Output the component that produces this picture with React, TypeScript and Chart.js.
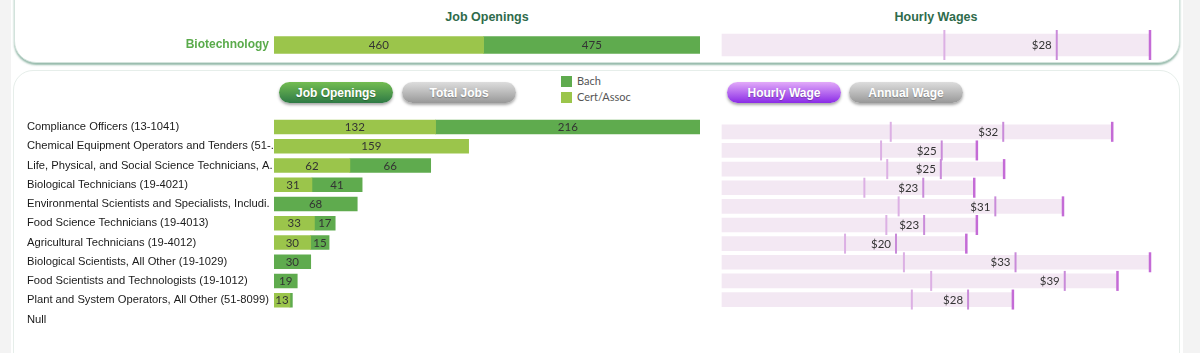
import React, { useEffect, useRef } from "react";
import { Chart, registerables } from "chart.js";

Chart.register(...registerables);

// ---------- DATA ----------
const industry = ["Biotechnology"];
const industryCertAssoc = [460];
const industryBach = [475];
const industryWageLow = [18.6];
const industryWageMedian = [28];
const industryWageHigh = [35.8];

const occupations = [
  "Compliance Officers (13-1041)",
  "Chemical Equipment Operators and Tenders (51-9011)",
  "Life, Physical, and Social Science Technicians, All Other (19-4099)",
  "Biological Technicians (19-4021)",
  "Environmental Scientists and Specialists, Including Health (19-2041)",
  "Food Science Technicians (19-4013)",
  "Agricultural Technicians (19-4012)",
  "Biological Scientists, All Other (19-1029)",
  "Food Scientists and Technologists (19-1012)",
  "Plant and System Operators, All Other (51-8099)",
  "Null",
];
const certAssoc = [132, 159, 62, 31, null, 33, 30, null, null, 13, null];
const bach = [216, null, 66, 41, 68, 17, 15, 30, 19, 2, null];
const wageLow = [19.2, 18.1, 18.8, 16.2, 20.1, 18.7, 14.0, 20.7, 23.8, 21.6, null];
const wageMedian = [32.0, 25.0, 24.9, 22.9, 31.1, 23.0, 19.8, 33.4, 39.0, 28.0, null];
const wageHigh = [44.4, 29.0, 32.1, 28.7, 38.8, 29.0, 27.8, 48.7, 45.0, 33.1, null];

// ---------- STYLE ----------
const CERT = "#9bc54b";
const BACH = "#5fab4e";
const WAGE_BG = "#f3e8f3";
const LOW_C = "#dcb0e4";
const MED_C = "#c98bd9";
const HIGH_C = "#c46bd6";
const NUM_FONT = "11.5px Lato, 'Open Sans', sans-serif";
const LABEL_FAMILY = "'Liberation Sans', Arial, sans-serif";
const LABEL_SIZE = 11.2;

const measureCtx = document.createElement("canvas").getContext("2d")!;
function truncate(label: string, maxW: number): string {
  measureCtx.font = `${LABEL_SIZE}px ${LABEL_FAMILY}`;
  if (measureCtx.measureText(label).width <= maxW) return label;
  let s = label;
  while (s.length > 1 && measureCtx.measureText(s + ".").width > maxW) s = s.slice(0, -1);
  return s + ".";
}

const barLabelPlugin = {
  id: "barLabels",
  afterDatasetsDraw(chart: any) {
    const { ctx } = chart;
    ctx.save();
    ctx.font = NUM_FONT;
    ctx.fillStyle = "#333";
    ctx.textAlign = "center";
    ctx.textBaseline = "middle";
    chart.data.datasets.forEach((ds: any, di: number) => {
      const meta = chart.getDatasetMeta(di);
      meta.data.forEach((el: any, i: number) => {
        const v = ds.data[i];
        if (v == null) return;
        const txt = String(v);
        const w = Math.abs(el.x - el.base);
        if (w < ctx.measureText(txt).width) return;
        ctx.fillText(txt, (el.x + el.base) / 2, el.y + 0.5);
      });
    });
    ctx.restore();
  },
};

function wageLabelPlugin(medians: (number | null)[]) {
  return {
    id: "wageLabels",
    afterDatasetsDraw(chart: any) {
      const { ctx } = chart;
      const x = chart.scales.x;
      const y = chart.scales.y;
      ctx.save();
      ctx.font = NUM_FONT;
      ctx.fillStyle = "#333";
      ctx.textAlign = "right";
      ctx.textBaseline = "middle";
      medians.forEach((m, i) => {
        if (m == null) return;
        ctx.fillText("$" + Math.round(m), x.getPixelForValue(m) - 5, y.getPixelForValue(i) + 0.5);
      });
      ctx.restore();
    },
  };
}

function markSet(labels: string[], values: (number | null)[], color: string, radius: number, width: number) {
  return {
    type: "scatter",
    data: labels
      .map((l, i) => (values[i] == null ? null : { x: values[i], y: l }))
      .filter((p) => p !== null),
    pointStyle: "line",
    pointRotation: 90,
    pointRadius: radius,
    pointHoverRadius: radius,
    pointBorderColor: color,
    pointBackgroundColor: color,
    pointBorderWidth: width,
    pointHoverBorderWidth: width,
    clip: false,
  };
}

function jobConfig(
  labels: string[],
  cert: (number | null)[],
  bachV: (number | null)[],
  thickness: number,
  padding: any,
  yTicks: any,
  axisWidth: number
) {
  const totals = labels.map((_, i) => (cert[i] ?? 0) + (bachV[i] ?? 0));
  return {
    type: "bar",
    data: {
      labels,
      datasets: [
        { label: "Cert/Assoc", data: cert, backgroundColor: CERT, barThickness: thickness },
        { label: "Bach", data: bachV, backgroundColor: BACH, barThickness: thickness },
      ],
    },
    options: {
      indexAxis: "y",
      responsive: false,
      animation: false,
      events: [],
      layout: { padding },
      plugins: { legend: { display: false }, tooltip: { enabled: false } },
      scales: {
        x: { stacked: true, display: false, min: 0, max: Math.max(...totals) },
        y: {
          stacked: true,
          grid: { display: false, drawTicks: false },
          border: { display: false },
          ticks: yTicks,
          afterFit(scale: any) {
            scale.width = axisWidth;
          },
        },
      },
    },
    plugins: [barLabelPlugin],
  };
}

function wageConfig(
  labels: string[],
  low: (number | null)[],
  med: (number | null)[],
  high: (number | null)[],
  bgThickness: number,
  markRadius: number,
  padding: any
) {
  const maxHigh = Math.max(...(high.filter((v) => v != null) as number[]));
  return {
    type: "bar",
    data: {
      labels,
      datasets: [
        markSet(labels, high, HIGH_C, markRadius, 2.5),
        markSet(labels, med, MED_C, markRadius, 2),
        markSet(labels, low, LOW_C, markRadius, 2),
        {
          type: "bar",
          label: "range",
          data: high,
          backgroundColor: WAGE_BG,
          barThickness: bgThickness,
          clip: false,
        },
      ],
    },
    options: {
      indexAxis: "y",
      responsive: false,
      animation: false,
      events: [],
      layout: { padding },
      plugins: { legend: { display: false }, tooltip: { enabled: false } },
      scales: {
        x: { type: "linear", display: false, min: 0, max: maxHigh },
        y: { type: "category", display: false },
      },
    },
    plugins: [wageLabelPlugin(med)],
  };
}

function ChartCanvas(props: { left: number; top: number; width: number; height: number; make: () => any }) {
  const ref = useRef<HTMLCanvasElement>(null);
  useEffect(() => {
    const chart = new Chart(ref.current!, props.make());
    return () => chart.destroy();
  }, []);
  return (
    <canvas
      ref={ref}
      width={props.width}
      height={props.height}
      style={{ position: "absolute", left: props.left, top: props.top, width: props.width, height: props.height }}
    />
  );
}

const pill = (left: number, width: number, bg: string): React.CSSProperties => ({
  position: "absolute",
  left,
  top: 82,
  width,
  height: 21,
  borderRadius: 11,
  background: bg,
  color: "#fff",
  font: `bold 12px ${LABEL_FAMILY}`,
  display: "flex",
  alignItems: "center",
  justifyContent: "center",
  boxShadow: "0 2px 3px rgba(0,0,0,0.35)",
  textShadow: "0 1px 1px rgba(0,0,0,0.25)",
});

export default function App() {
  useEffect(() => {
    document.body.style.margin = "0";
  }, []);

  return (
    <div style={{ position: "absolute", left: 0, top: 0, width: 1200, height: 353, background: "#f3f3f3", overflow: "hidden" }}>
      <div style={{ position: "absolute", left: 11, top: 0, width: 1172, height: 353, background: "#fff" }} />
      {/* top card */}
      <div
        style={{
          position: "absolute",
          left: 14,
          top: -30,
          width: 1164,
          height: 91,
          borderRadius: 22,
          background: "#fff",
          border: "1px solid #d3e3dc",
          boxShadow: "0 2px 2px rgba(80,140,115,0.6)",
        }}
      />
      {/* lower card */}
      <div
        style={{
          position: "absolute",
          left: 13,
          top: 70,
          width: 1165,
          height: 320,
          borderRadius: 20,
          background: "#fff",
          border: "1px solid #e6eeea",
        }}
      />
      {/* titles */}
      <div style={{ position: "absolute", left: 274, width: 426, top: 10, textAlign: "center", font: `bold 12.5px ${LABEL_FAMILY}`, color: "#2f6b4b" }}>
        Job Openings
      </div>
      <div style={{ position: "absolute", left: 722, width: 428, top: 10, textAlign: "center", font: `bold 12.5px ${LABEL_FAMILY}`, color: "#2f6b4b" }}>
        Hourly Wages
      </div>

      {/* buttons */}
      <div style={pill(279, 114, "linear-gradient(#74bd52, #2e7a45)")}>Job Openings</div>
      <div style={pill(402, 114, "linear-gradient(#dddddd, #989898)")}>Total Jobs</div>
      <div style={pill(727, 114, "linear-gradient(#e2aaf9, #8a2be6)")}>Hourly Wage</div>
      <div style={pill(849, 114, "linear-gradient(#dddddd, #989898)")}>Annual Wage</div>

      {/* legend */}
      <div style={{ position: "absolute", left: 561, top: 76, width: 11, height: 11, background: BACH }} />
      <div style={{ position: "absolute", left: 577, top: 74, font: "11px Lato, sans-serif", color: "#555" }}>Bach</div>
      <div style={{ position: "absolute", left: 561, top: 92, width: 11, height: 11, background: CERT }} />
      <div style={{ position: "absolute", left: 577, top: 90, font: "11px Lato, sans-serif", color: "#555" }}>Cert/Assoc</div>

      {/* top charts */}
      <ChartCanvas
        left={0}
        top={24}
        width={700}
        height={42}
        make={() =>
          jobConfig(
            industry,
            industryCertAssoc,
            industryBach,
            22,
            { left: 0, right: 0, top: 4.5, bottom: 5.5 },
            { crossAlign: "near", padding: 5, color: "#5aab4b", font: { family: LABEL_FAMILY, size: 12, weight: "bold" } },
            274
          )
        }
      />
      <ChartCanvas
        left={700}
        top={24}
        width={480}
        height={42}
        make={() =>
          wageConfig(industry, industryWageLow, industryWageMedian, industryWageHigh, 22, 15, {
            left: 22,
            right: 30,
            top: 4.5,
            bottom: 5.5,
          })
        }
      />

      {/* lower charts */}
      <ChartCanvas
        left={0}
        top={110}
        width={700}
        height={230}
        make={() =>
          jobConfig(
            occupations,
            certAssoc,
            bach,
            14,
            { left: 27, right: 0, top: 7.4, bottom: 10.9 },
            {
              crossAlign: "far",
              padding: 0,
              color: "#1a1a1a",
              font: { family: LABEL_FAMILY, size: LABEL_SIZE },
              callback: (_v: any, i: number) => truncate(occupations[i], 247),
            },
            247
          )
        }
      />
      <ChartCanvas
        left={700}
        top={110}
        width={480}
        height={230}
        make={() =>
          wageConfig(occupations, wageLow, wageMedian, wageHigh, 14, 10, {
            left: 22,
            right: 30,
            top: 7.4,
            bottom: 10.9,
          })
        }
      />
  </div>
  );
}
